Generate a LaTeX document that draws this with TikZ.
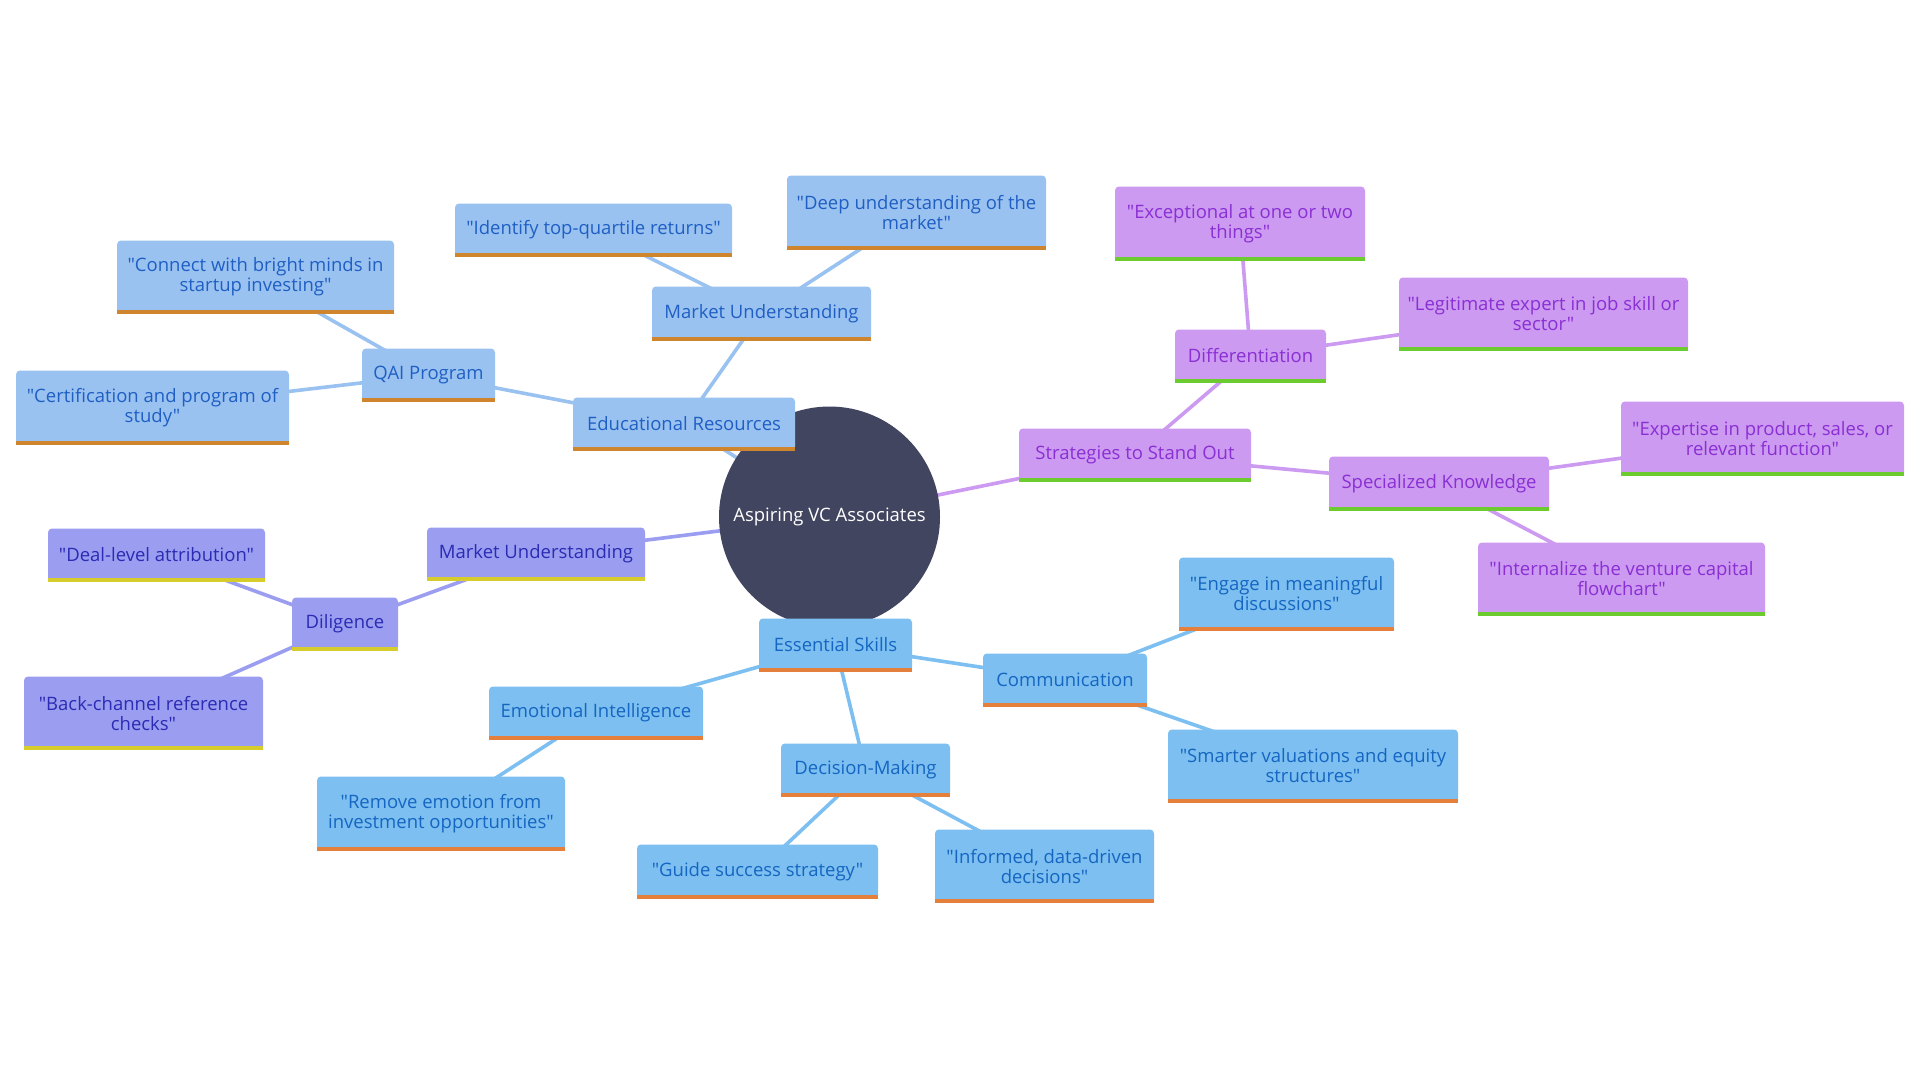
\documentclass[tikz,border=0pt]{standalone}
\usepackage{fontspec}
\setmainfont{Open Sans}[Ligatures=TeXOff]
\usetikzlibrary{backgrounds}
\definecolor{rootfill}{HTML}{414560}
\definecolor{edfill}{HTML}{9AC2F0}\definecolor{edtext}{HTML}{1F5FC4}\definecolor{edbar}{HTML}{CF842E}\definecolor{edline}{HTML}{9AC2F0}
\definecolor{mufill}{HTML}{9B9EF0}\definecolor{mutext}{HTML}{2B2BB3}\definecolor{mubar}{HTML}{D6CC2C}\definecolor{muline}{HTML}{9B9EF0}
\definecolor{esfill}{HTML}{7CBFF0}\definecolor{estext}{HTML}{1566C2}\definecolor{esbar}{HTML}{E5803C}\definecolor{esline}{HTML}{7CBFF0}
\definecolor{ssfill}{HTML}{CC9AF0}\definecolor{sstext}{HTML}{8A2FD4}\definecolor{ssbar}{HTML}{6CCB2E}\definecolor{ssline}{HTML}{CC9AF0}
\tikzset{
  mmbase/.style={inner sep=0pt, align=center, rounded corners=4pt, font=\fontsize{18.5}{20}\selectfont},
  edbox/.style={mmbase, fill=edfill, text=edtext},
  mubox/.style={mmbase, fill=mufill, text=mutext},
  esbox/.style={mmbase, fill=esfill, text=estext},
  ssbox/.style={mmbase, fill=ssfill, text=sstext},
  edge/.style={line width=3.6pt},
}
% style-prefix, name, x1, y1, x2, y2, text
\newcommand\mmnode[7]{%
  \node[#1box, minimum width={(#5-#3)*1pt}, minimum height={(#6-#4)*1pt}] (#2) at ({(#3+#5)/2},{(#4+#6)/2-1.5}) {#7};
  \fill[#1bar] ([yshift=4pt]#2.south west) rectangle (#2.south east);
}
\begin{document}
\begin{tikzpicture}[x=1pt,y=-1pt]
\useasboundingbox (0,0) rectangle (1920,1080);
\node[circle, fill=rootfill, minimum size=221pt, inner sep=0pt, text=white, font=\fontsize{18.5}{20}\selectfont] (root) at (829.5,517) {Aspiring VC Associates};
% Educational Resources branch
\mmnode{ed}{er}{573}{399}{795}{452}{Educational Resources}
\mmnode{ed}{mua}{652}{288}{871}{342}{Market Understanding}
\mmnode{ed}{idt}{455}{205}{732}{258}{"Identify top-quartile returns"}
\mmnode{ed}{deep}{787}{177}{1046}{251}{"Deep understanding of the\\market"}
\mmnode{ed}{qai}{362}{350}{495}{403}{QAI Program}
\mmnode{ed}{conn}{117}{242}{394}{315}{"Connect with bright minds in\\startup investing"}
\mmnode{ed}{cert}{16}{372}{289}{446}{"Certification and program of\\study"}
% Market Understanding (left) branch
\mmnode{mu}{mub}{427}{529}{645}{582}{Market Understanding}
\mmnode{mu}{dil}{292}{599}{398}{652}{Diligence}
\mmnode{mu}{deal}{48}{530}{265}{583}{"Deal-level attribution"}
\mmnode{mu}{back}{24}{678}{263}{751}{"Back-channel reference\\checks"}
% Essential Skills branch
\mmnode{es}{es}{759}{620}{912}{673}{Essential Skills}
\mmnode{es}{ei}{489}{688}{703}{741}{Emotional Intelligence}
\mmnode{es}{rem}{317}{778}{565}{852}{"Remove emotion from\\investment opportunities"}
\mmnode{es}{dm}{781}{745}{950}{798}{Decision-Making}
\mmnode{es}{guide}{637}{846}{878}{900}{"Guide success strategy"}
\mmnode{es}{inf}{935}{831}{1154}{904}{"Informed, data-driven\\decisions"}
\mmnode{es}{comm}{983}{655}{1147}{708}{Communication}
\mmnode{es}{eng}{1179}{559}{1394}{632}{"Engage in meaningful\\discussions"}
\mmnode{es}{smart}{1168}{731}{1458}{804}{"Smarter valuations and equity\\structures"}
% Strategies branch
\mmnode{ss}{sso}{1019}{430}{1251}{483}{Strategies to Stand Out}
\mmnode{ss}{diff}{1175}{331}{1326}{384}{Differentiation}
\mmnode{ss}{exc}{1115}{188}{1365}{262}{"Exceptional at one or two\\things"}
\mmnode{ss}{leg}{1399}{279}{1688}{352}{"Legitimate expert in job skill or\\sector"}
\mmnode{ss}{spec}{1329}{458}{1549}{512}{Specialized Knowledge}
\mmnode{ss}{exp}{1621}{403}{1904}{477}{"Expertise in product, sales, or\\relevant function"}
\mmnode{ss}{int}{1478}{544}{1765}{617}{"Internalize the venture capital\\flowchart"}
\begin{scope}[on background layer]
\fill[white] (0,0) rectangle (1920,1080);
\draw[edge, edline] (root.center) -- (er.center);
\draw[edge, edline] (er.center) -- (mua.center);
\draw[edge, edline] (mua.center) -- (idt.center);
\draw[edge, edline] (mua.center) -- (deep.center);
\draw[edge, edline] (er.center) -- (qai.center);
\draw[edge, edline] (qai.center) -- (conn.center);
\draw[edge, edline] (qai.center) -- (cert.center);
\draw[edge, muline] (root.center) -- (mub.center);
\draw[edge, muline] (mub.center) -- (dil.center);
\draw[edge, muline] (dil.center) -- (deal.center);
\draw[edge, muline] (dil.center) -- (back.center);
\draw[edge, esline] (root.center) -- (es.center);
\draw[edge, esline] (es.center) -- (ei.center);
\draw[edge, esline] (ei.center) -- (rem.center);
\draw[edge, esline] (es.center) -- (dm.center);
\draw[edge, esline] (dm.center) -- (guide.center);
\draw[edge, esline] (dm.center) -- (inf.center);
\draw[edge, esline] (es.center) -- (comm.center);
\draw[edge, esline] (comm.center) -- (eng.center);
\draw[edge, esline] (comm.center) -- (smart.center);
\draw[edge, ssline] (root.center) -- (sso.center);
\draw[edge, ssline] (sso.center) -- (diff.center);
\draw[edge, ssline] (diff.center) -- (exc.center);
\draw[edge, ssline] (diff.center) -- (leg.center);
\draw[edge, ssline] (sso.center) -- (spec.center);
\draw[edge, ssline] (spec.center) -- (exp.center);
\draw[edge, ssline] (spec.center) -- (int.center);
\end{scope}
\end{tikzpicture}
\end{document}
